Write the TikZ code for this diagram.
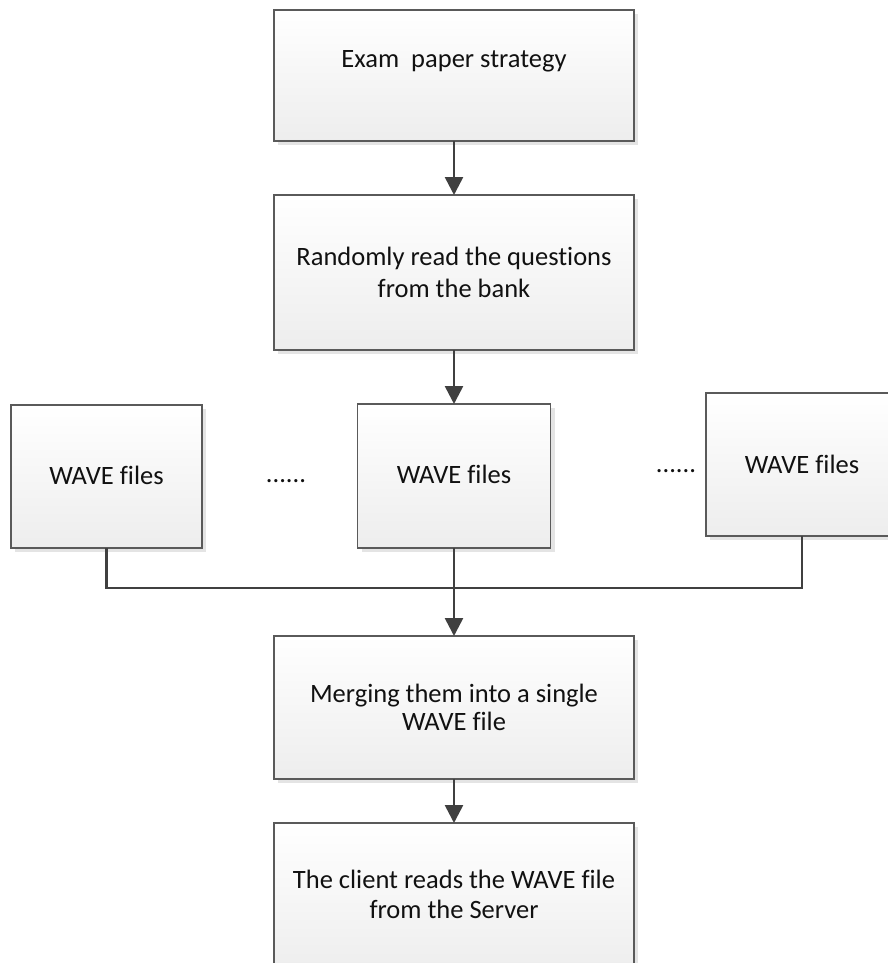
\documentclass[tikz,border=0pt]{standalone}
\usepackage{fontspec}
\setmainfont{Carlito}[Ligatures={NoCommon,NoDiscretionary,NoContextual}]
\usetikzlibrary{arrows.meta}
\definecolor{edge}{HTML}{5A5A5A}
\definecolor{conn}{HTML}{404040}
\definecolor{shade}{HTML}{E4E4E4}
\definecolor{txt}{HTML}{111111}
\tikzset{
  box/.style={rectangle, draw=edge, line width=1.2pt, inner sep=0pt, outer sep=0pt,
    top color=white, bottom color=black!7,
    preaction={fill=shade, transform canvas={shift={(4pt,-4pt)}}}},
  lbl/.style={anchor=base, inner sep=0pt, text=txt, font=\fontsize{26.5}{31}\selectfont},
  conline/.style={draw=conn, line width=2.6pt},
  arr/.style={conline, -{Triangle[length=18pt,width=18pt]}}
}
\begin{document}
\begin{tikzpicture}[x=1pt,y=-1pt]
\clip (0,0) rectangle (888,963);
\fill[white] (0,0) rectangle (888,963);
% boxes
\node[box, minimum width=360pt, minimum height=131pt] (b1) at (454,75.5) {};
\node[box, minimum width=360pt, minimum height=155pt] (b2) at (454,272.5) {};
\node[box, minimum width=191pt, minimum height=143pt] (w1) at (106.5,476.5) {};
\node[box, minimum width=193pt, minimum height=144pt] (w2) at (454,476) {};
\node[box, minimum width=192pt, minimum height=143pt] (w3) at (802,464.5) {};
\node[box, minimum width=360pt, minimum height=143pt] (b4) at (454,707.5) {};
\node[box, minimum width=360pt, minimum height=150pt] (b5) at (454,898) {};
% labels
\node[lbl] (t1) at (454,68) {Exam\ \ paper strategy};
\node[lbl] (t2a) at (454,265) {Randomly read the questions};
\node[lbl] (t2b) at (454,297) {from the bank};
\node[lbl] (tw1) at (106.5,484) {WAVE files};
\node[lbl] (tw2) at (454,483) {WAVE files};
\node[lbl] (tw3) at (802,473) {WAVE files};
\node[lbl] (d1) at (286,482) {......};
\node[lbl] (d2) at (676,472) {......};
\node[lbl] (t4a) at (454,702) {Merging them into a single};
\node[lbl] (t4b) at (454,730) {WAVE file};
\node[lbl] (t5a) at (454,888) {The client reads the WAVE file};
\node[lbl] (t5b) at (454,918) {from the Server};
% connectors
\coordinate (j) at (454,588);
\draw[arr] (b1.south) -- (b2.north);
\draw[arr] (b2.south) -- (w2.north);
\draw[conline] (w1.south) |- (j);
\draw[conline] (w3.south) |- (j);
\draw[arr] (w2.south) -- (b4.north);
\draw[arr] (b4.south) -- (b5.north);
\end{tikzpicture}
\end{document}
